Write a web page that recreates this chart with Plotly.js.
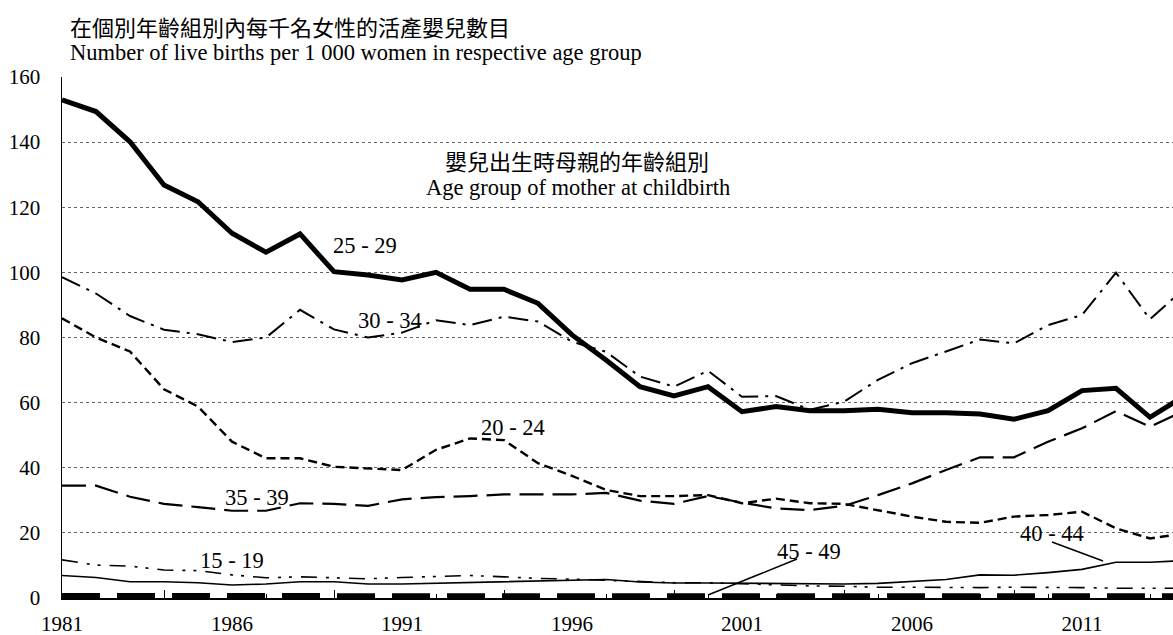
<!DOCTYPE html>
<html>
<head>
<meta charset="utf-8">
<script src="https://cdn.plot.ly/plotly-3.0.1.min.js"></script>
<style>html,body{margin:0;padding:0;background:#fff;}#chart{width:1173px;height:635px;}</style>
</head>
<body>
<div id="chart"></div>
<script>
const years = [1981,1982,1983,1984,1985,1986,1987,1988,1989,1990,1991,1992,1993,1994,1995,1996,1997,1998,1999,2000,2001,2002,2003,2004,2005,2006,2007,2008,2009,2010,2011,2012,2013,2014];
const age15_19 = [11.7,10.1,9.8,8.6,8.4,7.1,6.2,6.5,6.2,5.9,6.3,6.5,6.9,6.5,6.0,5.8,5.5,5.2,4.7,4.7,4.3,4.0,3.7,3.6,3.3,3.3,3.2,3.2,3.3,3.3,3.2,3.0,2.9,3.0];
const age20_24 = [85.9,80.0,75.7,64.1,58.8,48.0,42.9,42.9,40.3,39.8,39.3,45.5,49.0,48.5,41.4,37.5,33.2,31.3,31.3,31.6,29.1,30.5,29.1,28.9,27.0,25.0,23.4,23.1,25.0,25.5,26.5,21.4,18.3,19.8];
const age25_29 = [153.0,149.4,140.1,126.8,121.7,112.0,106.2,111.8,100.2,99.2,97.7,100.0,94.8,94.8,90.5,80.8,73.1,64.9,62.1,64.9,57.2,58.8,57.5,57.5,58.0,56.9,56.9,56.5,54.9,57.5,63.7,64.4,55.5,62.0];
const age30_34 = [98.5,93.5,86.6,82.4,81.0,78.6,80.0,88.5,82.5,80.0,81.5,85.3,83.8,86.4,84.9,78.7,75.6,68.0,64.9,69.8,61.8,62.0,57.8,60.3,67.0,72.1,75.7,79.4,78.2,83.8,86.9,99.9,85.6,95.0];
const age35_39 = [34.5,34.5,31.1,28.9,27.9,26.8,26.8,29.1,28.9,28.3,30.3,31.0,31.3,31.8,31.8,31.8,32.3,29.9,28.9,31.3,29.3,27.5,27.0,28.3,31.6,35.2,39.3,43.2,43.2,48.0,52.1,57.4,52.6,57.5];
const age40_44 = [6.9,6.3,5.0,5.0,4.7,4.0,4.3,5.0,5.0,4.3,4.3,4.5,4.7,5.0,5.2,5.4,5.7,4.9,4.6,4.6,4.5,4.3,4.3,4.3,4.5,5.0,5.7,7.1,7.0,7.8,8.8,11.0,11.0,11.5];
const age45_49 = [0.6,0.6,0.6,0.6,0.5,0.5,0.5,0.5,0.5,0.5,0.5,0.5,0.5,0.5,0.5,0.5,0.5,0.5,0.5,0.5,0.5,0.5,0.5,0.5,0.5,0.5,0.5,0.5,0.5,0.5,0.5,0.5,0.5,0.5];
const xTickYears = [1981,1986,1991,1996,2001,2006,2011];
const majorTickYears = [1984,1989,1994,1999,2004,2009,2014];
const yTicks = [0,20,40,60,80,100,120,140,160];
const seriesNames = ['15 - 19','20 - 24','25 - 29','30 - 34','35 - 39','40 - 44','45 - 49'];

const SERIF = 'Liberation Serif';
const CJK = 'Noto Sans CJK TC';
const mk = (y, name, width, dash) => ({
  x: years, y: y, name: name, type: 'scatter', mode: 'lines',
  line: {color: '#000', width: width, dash: dash}, hoverinfo: 'skip'
});

const data = [
  mk(age45_49, seriesNames[6], 6, '38px,17px'),
  mk(age40_44, seriesNames[5], 1.6, 'solid'),
  mk(age15_19, seriesNames[0], 1.6, '16px,9px,3px,8px,3px,9px'),
  mk(age35_39, seriesNames[4], 2.2, '24px,9px'),
  mk(age20_24, seriesNames[1], 2.4, '9px,5px'),
  mk(age30_34, seriesNames[3], 2.0, '20px,7px,3px,7px'),
  mk(age25_29, seriesNames[2], 5.0, 'solid'),
  {x: [1981], y: [0], xaxis: 'x2', yaxis: 'y', mode: 'markers', marker: {opacity: 0}, hoverinfo: 'skip', showlegend: false}
];

const xMax = 1981 + 1111/34;
const lab = (text, x, y) => ({text: text, x: x, y: y, xref: 'x', yref: 'y', showarrow: false,
  font: {family: SERIF, size: 22.5, color: '#000'}, xanchor: 'center', yanchor: 'middle'});

const layout = {
  width: 1173, height: 635,
  margin: {l: 62, r: 0, t: 77, b: 37, pad: 0},
  paper_bgcolor: '#fff', plot_bgcolor: '#fff',
  showlegend: false,
  font: {family: SERIF, color: '#000'},
  xaxis: {
    range: [1981, xMax], tickmode: 'array', tickvals: xTickYears, ticktext: xTickYears.map(String),
    ticks: '', showgrid: false, zeroline: false, showline: true, linecolor: '#000', linewidth: 1.5,
    tickfont: {family: SERIF, size: 21, color: '#000'}, ticklabelstandoff: 6,
    minor: {tickmode: 'linear', tick0: 1981, dtick: 1, ticks: 'inside', ticklen: 4, tickcolor: '#000', tickwidth: 1, showgrid: false}
  },
  xaxis2: {
    range: [1981, xMax], overlaying: 'x', anchor: 'y', side: 'bottom', tickmode: 'array',
    tickvals: majorTickYears, ticks: 'inside', ticklen: 8, tickcolor: '#000', tickwidth: 1,
    showticklabels: false, showgrid: false, zeroline: false, showline: false
  },
  yaxis: {
    range: [0, 160], tickmode: 'array', tickvals: yTicks, ticks: '',
    showgrid: true, gridcolor: '#666', griddash: 'dot', gridwidth: 1,
    zeroline: false, showline: true, linecolor: '#000', linewidth: 1.5,
    tickfont: {family: SERIF, size: 21, color: '#000'}, ticklabelstandoff: 16
  },
  annotations: [
    {text: '在個別年齡組別內每千名女性的活產嬰兒數目', xref: 'paper', yref: 'paper', x: 6/1111, y: (598-26)/521,
     xanchor: 'left', yanchor: 'middle', showarrow: false, font: {family: CJK, size: 22, color: '#000'}},
    {text: 'Number of live births per 1 000 women in respective age group', xref: 'paper', yref: 'paper', x: 6/1111, y: (598-52)/521,
     xanchor: 'left', yanchor: 'middle', showarrow: false, font: {family: SERIF, size: 22.5, color: '#000'}},
    {text: '嬰兒出生時母親的年齡組別', xref: 'paper', yref: 'paper', x: (577-62)/1111, y: (598-160)/521,
     xanchor: 'center', yanchor: 'middle', showarrow: false, font: {family: CJK, size: 22, color: '#000'}},
    {text: 'Age group of mother at childbirth', xref: 'paper', yref: 'paper', x: (578-62)/1111, y: (598-187)/521,
     xanchor: 'center', yanchor: 'middle', showarrow: false, font: {family: SERIF, size: 22.5, color: '#000'}},
    lab(seriesNames[2], 1989.91, 108.4),
    lab(seriesNames[3], 1990.65, 85.1),
    lab(seriesNames[1], 1994.26, 52.5),
    lab(seriesNames[4], 1986.74, 31.0),
    lab(seriesNames[0], 1986.0, 11.4),
    lab(seriesNames[6], 2002.97, 14.4),
    lab(seriesNames[5], 2010.12, 19.7)
  ],
  shapes: [
    {type: 'line', xref: 'x', yref: 'y', x0: 1981 + (797-62)/34, y0: (598-559)/3.256, x1: 2000.0, y1: 0.9, line: {color: '#000', width: 1.5}},
    {type: 'line', xref: 'x', yref: 'y', x0: 1981 + (1052-62)/34, y0: (598-542)/3.256, x1: 1981 + (1103-62)/34, y1: (598-561)/3.256, line: {color: '#000', width: 1.5}}
  ]
};

Plotly.newPlot('chart', data, layout, {staticPlot: true, displayModeBar: false});
</script>
</body>
</html>
